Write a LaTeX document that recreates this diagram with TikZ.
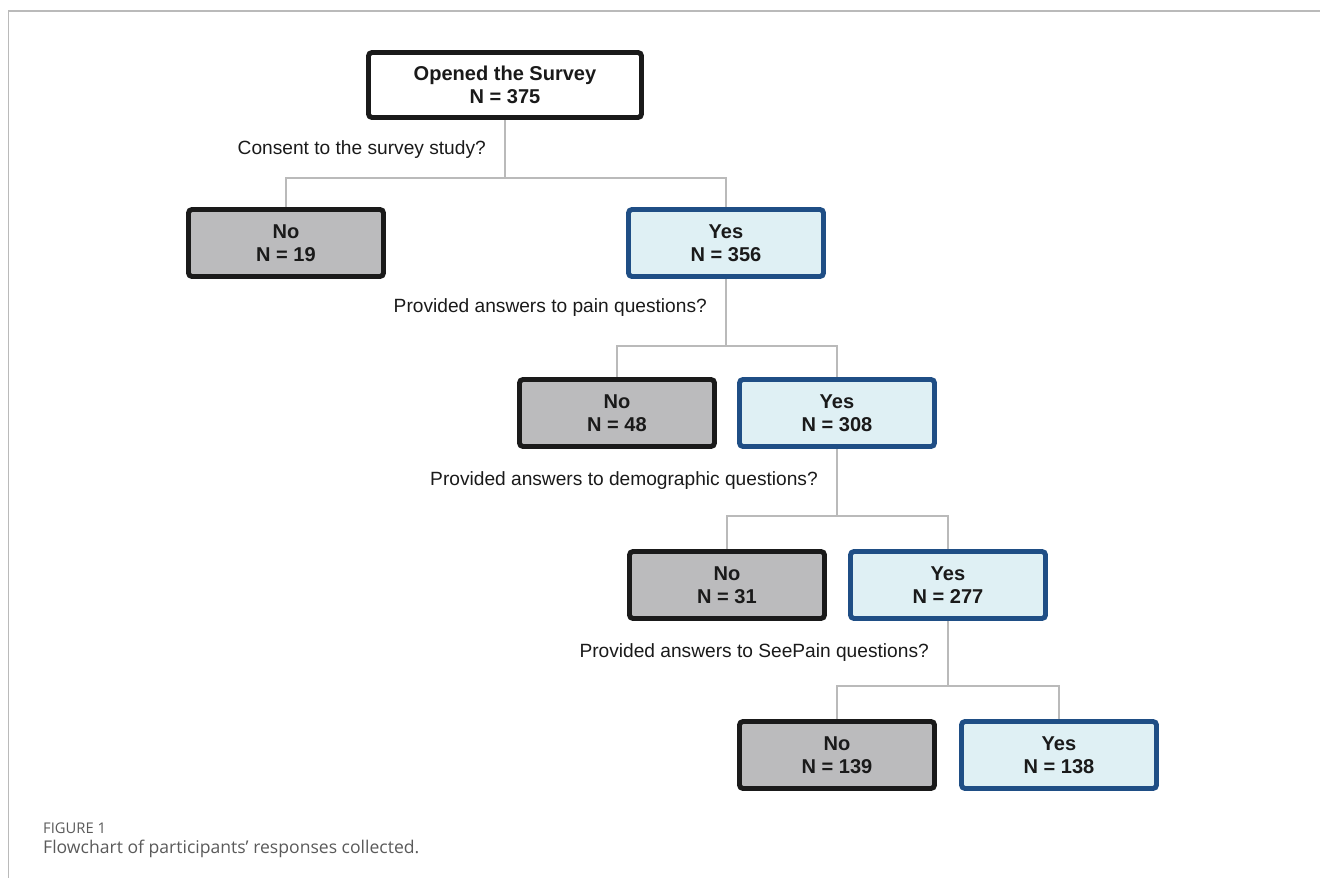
\documentclass[tikz,border=0pt]{standalone}
\usepackage{fontspec}
\setmainfont{Liberation Sans}
\newfontfamily\captfont{Open Sans}

\definecolor{nogray}{HTML}{BBBBBD}
\definecolor{yesfill}{HTML}{DFF0F4}
\definecolor{yesedge}{HTML}{1F4E85}
\definecolor{linkgray}{HTML}{BABABA}
\definecolor{darktext}{HTML}{1A1A1A}
\definecolor{captgray}{HTML}{5A5A5A}

\begin{document}
\begin{tikzpicture}[node distance={3.4cm},
                    topnode/.style={shape=rectangle, draw=darktext, fill=white, line width=2.8pt, rounded corners=2pt,
                                    minimum width=5.46cm, minimum height=1.3cm, align=center, text=darktext,
                                    font=\bfseries\fontsize{11.4}{13.2}\selectfont},
                    nonode/.style={topnode, fill=nogray, minimum width=3.9cm, minimum height=1.34cm},
                    yesnode/.style={nonode, draw=yesedge, fill=yesfill},
                    question/.style={anchor=east, text=darktext, font=\fontsize{10.9}{13}\selectfont},
                    link/.style={draw=linkgray, line width=1.1pt}]
        \useasboundingbox (0,0) rectangle (26.4,-17.56);
        \draw[linkgray, line width=0.7pt] (26.4,-0.22) -- (0.17,-0.22) -- (0.17,-17.56);
        \node[topnode] (top) at (10.10,-1.70) {Opened the Survey\\N = 375};
        \node[yesnode] (yes1) [below of=top, xshift=4.42cm, yshift=0.24cm] {Yes\\N = 356};
        \node[nonode] (no1) [left of=yes1, xshift=-5.4cm] {No\\N = 19};
        \node[yesnode] (yes2) [below of=yes1, xshift=2.22cm] {Yes\\N = 308};
        \node[nonode] (no2) [left of=yes2, xshift=-1cm] {No\\N = 48};
        \node[yesnode] (yes3) [below of=yes2, xshift=2.22cm, yshift=-0.04cm] {Yes\\N = 277};
        \node[nonode] (no3) [left of=yes3, xshift=-1.02cm] {No\\N = 31};
        \node[yesnode] (yes4) [below of=yes3, xshift=2.22cm] {Yes\\N = 138};
        \node[nonode] (no4) [left of=yes4, xshift=-1.04cm] {No\\N = 139};
        % questions
        \node[question] (q1) at ([xshift=-0.26cm, yshift=-0.6cm]top.south) {Consent to the survey study?};
        \node[question] (q2) at ([xshift=-0.26cm, yshift=-0.58cm]yes1.south) {Provided answers to pain questions?};
        \node[question] (q3) at ([xshift=-0.26cm, yshift=-0.64cm]yes2.south) {Provided answers to demographic questions?};
        \node[question] (q4) at ([xshift=-0.26cm, yshift=-0.64cm]yes3.south) {Provided answers to SeePain questions?};
        % links
        \draw[link] (no1.north) -- ++(0,0.58) -| (top.south);
        \draw[link] (yes1.north) -- ++(0,0.58) -| (top.south);
        \draw[link] (no2.north) -- ++(0,0.62) -| (yes1.south);
        \draw[link] (yes2.north) -- ++(0,0.62) -| (yes1.south);
        \draw[link] (no3.north) -- ++(0,0.66) -| (yes2.south);
        \draw[link] (yes3.north) -- ++(0,0.66) -| (yes2.south);
        \draw[link] (no4.north) -- ++(0,0.66) -| (yes3.south);
        \draw[link] (yes4.north) -- ++(0,0.66) -| (yes3.south);
        % caption
        \node[anchor=west, text=captgray, font=\captfont\fontsize{8.4}{10}\selectfont] (fig) at (0.74,-16.56) {FIGURE 1};
        \node[anchor=west, text=captgray, font=\captfont\fontsize{10}{12}\selectfont] (capt) at (0.74,-16.98) {Flowchart of participants’ responses collected.};
\end{tikzpicture}
\end{document}
